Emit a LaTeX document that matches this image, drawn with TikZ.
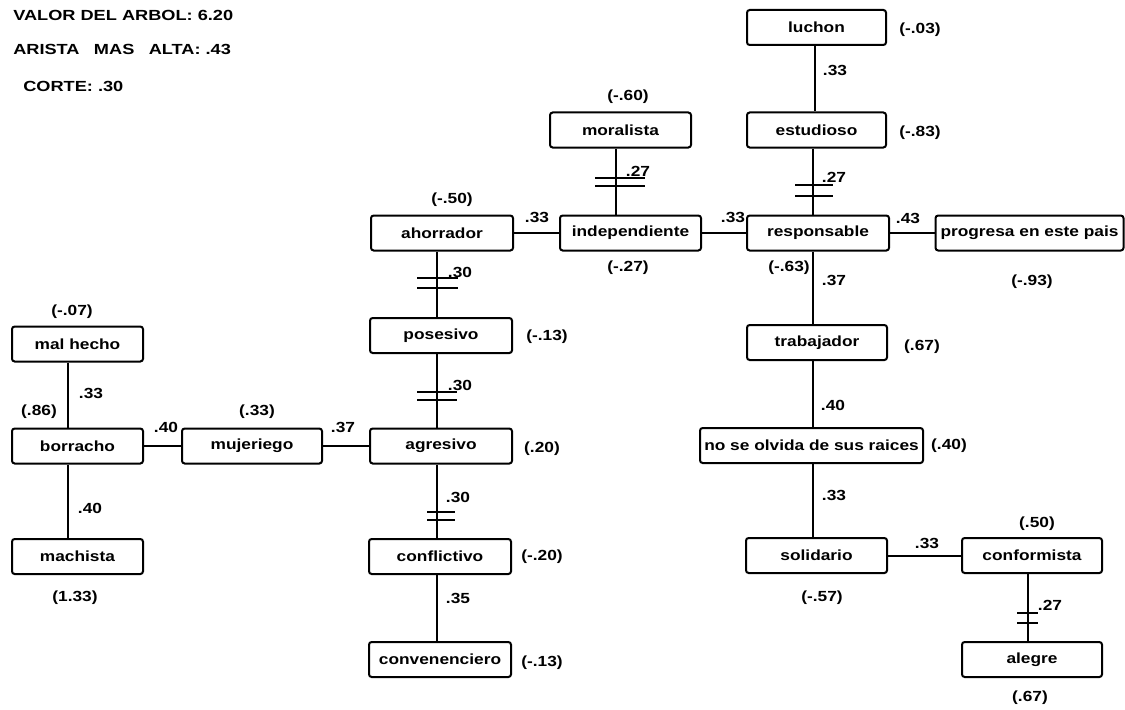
\documentclass[tikz,border=0pt]{standalone}
\usepackage{fontspec}
\newfontfamily\labfont[FakeStretch=1.18]{Liberation Sans Bold}
\newfontfamily\headfont[FakeStretch=1.24]{Liberation Sans Bold}
\usetikzlibrary{calc}
\tikzset{
  x=0.75pt, y=-0.75pt,
  every node/.style={font=\labfont\fontsize{11}{13}\selectfont},
  tbox/.style={draw, line width=1.5pt, rounded corners=2pt, fill=white, inner sep=0pt,
    minimum width=#1*0.75pt, minimum height=35*0.75pt},
  tbox/.default=141,
  conn/.style={line width=1.5pt},
  cutline/.style={line width=1.5pt},
  lbl/.style={inner sep=0pt},
  head/.style={inner sep=0pt, anchor=west, font=\headfont\fontsize{11}{13}\selectfont},
}
\newcommand\vconn[3]{\draw[conn] ([xshift=#3*0.75pt]#1.south) -- ([xshift=#3*0.75pt]#1.south |- #2.north);}
\newcommand\cutpair[4]{\draw[cutline] (#1,#3) -- (#2,#3) (#1,#4) -- (#2,#4);}
\begin{document}
\begin{tikzpicture}
\useasboundingbox (0,0) rectangle (1125,710);
% header
\node[head] (h1) at (13,15) {VALOR DEL ARBOL: 6.20};
\node[head] (h2) at (13,49) {ARISTA\hspace{7pt} MAS\hspace{7pt} ALTA: .43};
\node[head] (h3) at (23,86) {CORTE: .30};
% boxes
\node[tbox=139] (luchon) at (816.5,27.5) {luchon};
\node[tbox=139] (estudioso) at (816.5,130) {estudioso};
\node[tbox] (moralista) at (620.5,130) {moralista};
\node[tbox=142] (ahorrador) at (442,233) {ahorrador};
\node[tbox] (independiente) at (630.5,233) {independiente};
\node[tbox=142] (responsable) at (818,233) {responsable};
\node[tbox=188] (progresa) at (1029.5,233) {progresa en este pais};
\node[tbox=142] (posesivo) at (441,335.5) {posesivo};
\node[tbox=140] (trabajador) at (817,342.5) {trabajador};
\node[tbox=131] (malhecho) at (77.5,344) {mal hecho};
\node[tbox=131] (borracho) at (77.5,446) {borracho};
\node[tbox=140] (mujeriego) at (252,446) {mujeriego};
\node[tbox=142] (agresivo) at (441,446) {agresivo};
\node[tbox=223] (raices) at (811.5,445.5) {no se olvida de sus raices};
\node[tbox=131] (machista) at (77.5,556.5) {machista};
\node[tbox=142] (conflictivo) at (440,556.5) {conflictivo};
\node[tbox=141] (solidario) at (816.5,555.5) {solidario};
\node[tbox=140] (conformista) at (1032,555.5) {conformista};
\node[tbox=142] (convenenciero) at (440,659.5) {convenenciero};
\node[tbox=140] (alegre) at (1032,659.5) {alegre};
% vertical connectors
\vconn{luchon}{estudioso}{-2}
\vconn{estudioso}{responsable}{-3.5}
\vconn{moralista}{independiente}{-4.5}
\vconn{responsable}{trabajador}{-5}
\vconn{trabajador}{raices}{-4}
\vconn{raices}{solidario}{1.5}
\vconn{ahorrador}{posesivo}{-5}
\vconn{posesivo}{agresivo}{-4}
\vconn{agresivo}{conflictivo}{-4}
\vconn{conflictivo}{convenenciero}{-3}
\vconn{malhecho}{borracho}{-9.5}
\vconn{borracho}{machista}{-9.5}
\vconn{conformista}{alegre}{-4}
% horizontal connectors
\draw[conn] (ahorrador.east) -- (independiente.west);
\draw[conn] (independiente.east) -- (responsable.west);
\draw[conn] (responsable.east) -- (progresa.west);
\draw[conn] (borracho.east) -- (mujeriego.west);
\draw[conn] (mujeriego.east) -- (agresivo.west);
\draw[conn] (solidario.east) -- (conformista.west);
% cut marks
\cutpair{595}{645}{178}{186}
\cutpair{795}{833}{185}{196}
\cutpair{417}{458}{278}{288}
\cutpair{417}{457}{392}{400}
\cutpair{427}{455}{512}{520}
\cutpair{1017}{1038}{613}{623}
% labels
\node[lbl] (w1) at (920,30) {(-.03)};
\node[lbl] (w2) at (835,70) {.33};
\node[lbl] (w3) at (628,97) {(-.60)};
\node[lbl] (w4) at (920,133) {(-.83)};
\node[lbl] (w5) at (638,171) {.27};
\node[lbl] (w6) at (834,177) {.27};
\node[lbl] (w7) at (452,200) {(-.50)};
\node[lbl] (w8) at (537,217) {.33};
\node[lbl] (w9) at (733,217) {.33};
\node[lbl] (w10) at (908,218) {.43};
\node[lbl] (w11) at (628,268) {(-.27)};
\node[lbl] (w12) at (789,268) {(-.63)};
\node[lbl] (w13) at (834,280) {.37};
\node[lbl] (w14) at (1032,282) {(-.93)};
\node[lbl] (w15) at (460,272) {.30};
\node[lbl] (w16) at (547,337) {(-.13)};
\node[lbl] (w17) at (922,347) {(.67)};
\node[lbl] (w18) at (72,312) {(-.07)};
\node[lbl] (w19) at (91,393) {.33};
\node[lbl] (w20) at (39,412) {(.86)};
\node[lbl] (w21) at (166,427) {.40};
\node[lbl] (w22) at (257,412) {(.33)};
\node[lbl] (w23) at (343,427) {.37};
\node[lbl] (w24) at (460,385) {.30};
\node[lbl] (w25) at (542,449) {(.20)};
\node[lbl] (w26) at (833,405) {.40};
\node[lbl] (w27) at (949,446) {(.40)};
\node[lbl] (w28) at (90,508) {.40};
\node[lbl] (w29) at (458,497) {.30};
\node[lbl] (w30) at (542,557) {(-.20)};
\node[lbl] (w31) at (834,495) {.33};
\node[lbl] (w32) at (927,543) {.33};
\node[lbl] (w33) at (1037,524) {(.50)};
\node[lbl] (w34) at (822,598) {(-.57)};
\node[lbl] (w35) at (75,598) {(1.33)};
\node[lbl] (w36) at (458,598) {.35};
\node[lbl] (w37) at (1050,605) {.27};
\node[lbl] (w38) at (542,663) {(-.13)};
\node[lbl] (w39) at (1030,698) {(.67)};
\end{tikzpicture}
\end{document}
